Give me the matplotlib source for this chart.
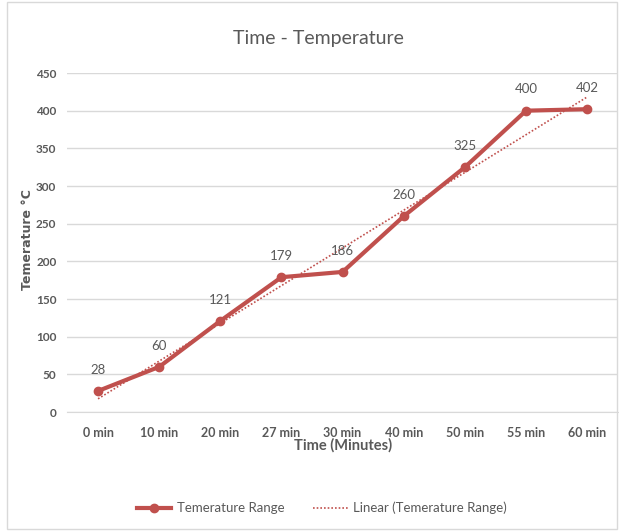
import matplotlib.pyplot as plt
import numpy as np
from matplotlib.patches import Rectangle

plt.rcParams['font.family'] = ['Lato', 'DejaVu Sans']

# data
times = ['0 min', '10 min', '20 min', '27 min', '30 min', '40 min', '50 min', '55 min', '60 min']
temps = [28, 60, 121, 179, 186, 260, 325, 400, 402]

red = '#C0504D'
gray = '#595959'

fig = plt.figure(figsize=(6.19, 5.31), dpi=100)
ax = fig.add_axes([0.109, 0.224, 0.889, 0.6385])

x = np.arange(1, len(times) + 1)
ax.plot(x, temps, color=red, lw=3, marker='o', ms=6, label='Temerature Range', zorder=3)

# linear trendline (least squares, as excel does)
k, b = np.polyfit(x, temps, 1)
ax.plot(x, k * x + b, color=red, lw=1.2, ls=(0, (1, 1.2)), label='Linear (Temerature Range)', zorder=2)

for xi, yi in zip(x, temps):
    ax.annotate(str(yi), (xi, yi), xytext=(0, 11), textcoords='offset points',
                ha='center', va='bottom', fontsize=9.5, color=gray)

ax.set_xlim(0.5, len(times) + 0.5)
ax.set_ylim(0, 450)
ax.set_yticks(np.arange(0, 451, 50))
ax.set_xticks(x)
ax.set_xticklabels(times, fontsize=9, color=gray, fontweight='bold')
ax.tick_params(axis='y', labelsize=8.5, labelcolor=gray)
for lbl in ax.get_yticklabels():
    lbl.set_fontweight('bold')
ax.tick_params(length=0, pad=8)
ax.tick_params(axis='x', pad=11)
ax.grid(axis='y', color='#D9D9D9', lw=1)
ax.set_axisbelow(True)
for s in ['top', 'right', 'left']:
    ax.spines[s].set_visible(False)
ax.spines['bottom'].set_color('#D9D9D9')

ax.set_xlabel('Time (Minutes)', fontsize=10.5, color=gray, fontweight='bold', labelpad=-1)
fig.text(28 / 619, 1 - 240 / 531, 'Temerature °C', rotation=90, ha='center', va='center',
         fontsize=9, color=gray, fontweight='bold', family='DejaVu Sans')
fig.text(0.515, 0.928, 'Time - Temperature', ha='center', va='center', fontsize=14, color=gray)

ax.legend(loc='center', bbox_to_anchor=(0.52, 0.043), bbox_transform=fig.transFigure,
          ncol=2, frameon=False, fontsize=9.5, labelcolor=gray, columnspacing=2.2,
          handlelength=2.6, handletextpad=0.4)

fig.patches.append(Rectangle((0.012, 0.003), 0.985, 0.994, transform=fig.transFigure,
                             fill=False, ec='#D9D9D9', lw=1))

fig.savefig('out.png', dpi=100)
